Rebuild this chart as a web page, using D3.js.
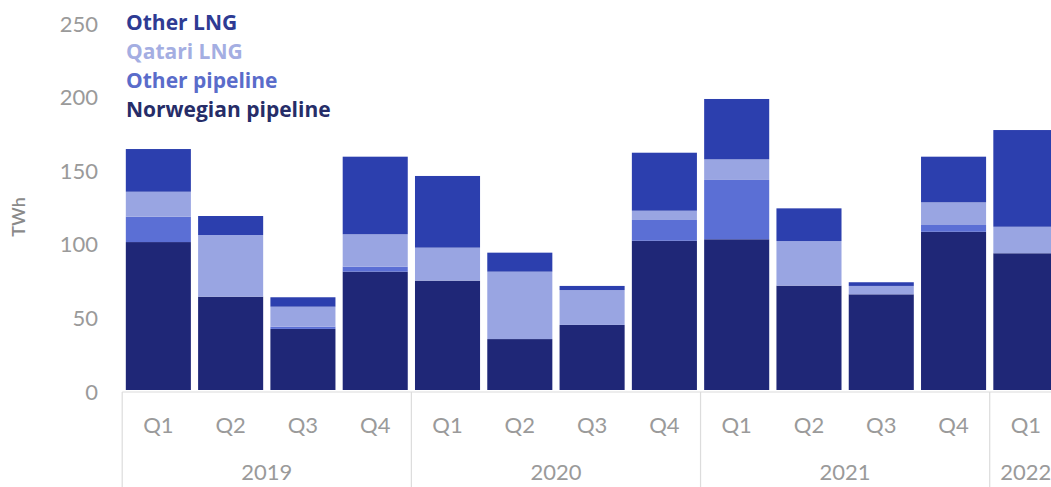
<!DOCTYPE html>
<html>
<head>
	<meta charset="UTF-8">
	<title>Gas imports by source</title>
	<script src="https://d3js.org/d3.v7.min.js"></script>
	<style type="text/css">
		body { margin: 0; background: #fff; }
		text { font-family: Lato, "Open Sans", sans-serif; }
		.tick-label { fill: #9a9a9a; font-size: 22px; }
		.cat-label { fill: #9a9a9a; font-size: 22px; }
		.legend text { font-family: "Open Sans", Lato, sans-serif; }
		.frame line { stroke: #dcdcdc; stroke-width: 1.2; }
	</style>
</head>
<body>
<svg id="chart" width="1051" height="487"></svg>
<script type="text/javascript">

	//=====DATA=======================================================================
	var quarters = ["Q1", "Q2", "Q3", "Q4", "Q1", "Q2", "Q3", "Q4", "Q1", "Q2", "Q3", "Q4", "Q1"];
	var years = ["2019", "2020", "2021", "2022"];
	var yearOf = ["2019", "2019", "2019", "2019", "2020", "2020", "2020", "2020",
	              "2021", "2021", "2021", "2021", "2022"];

	// TWh, bottom to top of each stack
	var norwegian     = [100.5, 63.4, 41.5, 80.4, 74.3, 34.6, 44.2, 101.4, 102.4, 70.9, 65.0, 107.5, 92.9];
	var otherPipeline = [ 17.2,  0.0,  1.5,  3.4,  0.0,  0.0,  0.0,  14.1,  40.3,  0.0,  0.0,   4.6,  0.0];
	var qatari        = [ 17.0, 41.9, 13.6, 22.0, 22.4, 45.8, 23.7,   6.3,  14.0, 30.3,  5.7,  15.4, 18.0];
	var otherLng      = [ 29.0, 12.9,  6.4, 52.7, 48.7, 12.9,  2.8,  39.4,  41.0, 22.2,  2.5,  31.0, 65.7];

	var yTicks = [0, 50, 100, 150, 200, 250];

	var seriesNames = ["Norwegian pipeline", "Other pipeline", "Qatari LNG", "Other LNG"];
	var barColours  = ["#1f2777", "#5b6fd5", "#99a5e2", "#2c3fae"];
	var textColours = ["#262d68", "#5a6cca", "#a4aee2", "#2e3b93"];

	var rows = quarters.map(function(q, i) {
		return {
			key: i,
			"Norwegian pipeline": norwegian[i],
			"Other pipeline": otherPipeline[i],
			"Qatari LNG": qatari[i],
			"Other LNG": otherLng[i]
		};
	});

	//=======SCALE======================================================================
	var svg = d3.select("#chart");

	var x = d3.scaleBand()
		.domain(d3.range(quarters.length))
		.range([122.2, 1062])
		.paddingInner(0.1)
		.paddingOuter(0.05);

	var y = d3.scaleLinear()
		.domain([0, 250])
		.range([390, 22]);

	var colour = d3.scaleOrdinal().domain(seriesNames).range(barColours);

	var stacked = d3.stack().keys(seriesNames)(rows);

	//==Draw the bars==================================================================
	svg.append("g")
		.selectAll("g")
		.data(stacked)
		.join("g")
			.attr("fill", function(d) { return colour(d.key); })
		.selectAll("rect")
		.data(function(d) { return d; })
		.join("rect")
			.attr("x", function(d) { return x(d.data.key); })
			.attr("y", function(d) { return y(d[1]); })
			.attr("width", x.bandwidth())
			.attr("height", function(d) { return Math.max(0, y(d[0]) - y(d[1])); });

	//====Y axis labels================================================================
	var yAxis = d3.axisLeft(y).tickValues(yTicks).tickSize(0).tickPadding(0);
	var gy = svg.append("g")
		.attr("transform", "translate(98,2)")
		.call(yAxis);
	gy.select(".domain").remove();
	gy.selectAll("text")
		.attr("class", "tick-label")
		.attr("font-family", null)
		.attr("font-size", null);

	svg.append("text")
		.attr("transform", "translate(25,217) rotate(-90)")
		.attr("text-anchor", "middle")
		.attr("fill", "#8a8a8a")
		.attr("font-size", "18px")
		.attr("font-weight", "600")
		.text("TWh");

	//====X axis: quarters and years===================================================
	var step = x.step();
	var half = step * x.paddingInner() / 2;
	var frame = svg.append("g").attr("class", "frame");

	frame.append("line")
		.attr("x1", x(0) - half).attr("x2", 1051)
		.attr("y1", 392).attr("y2", 392);

	// separator in front of the first quarter of each year
	var yearStarts = years.map(function(yr) { return yearOf.indexOf(yr); });
	frame.selectAll("line.sep")
		.data(yearStarts)
		.join("line")
			.attr("class", "sep")
			.attr("x1", function(i) { return x(i) - half; })
			.attr("x2", function(i) { return x(i) - half; })
			.attr("y1", 392).attr("y2", 487);

	svg.append("g")
		.selectAll("text")
		.data(quarters)
		.join("text")
			.attr("class", "cat-label")
			.attr("text-anchor", "middle")
			.attr("x", function(d, i) { return x(i) + x.bandwidth() / 2; })
			.attr("y", 433)
			.text(function(d) { return d; });

	svg.append("g")
		.selectAll("text")
		.data(years)
		.join("text")
			.attr("class", "cat-label")
			.attr("text-anchor", "middle")
			.attr("x", function(yr) {
				var idx = d3.range(yearOf.length).filter(function(i) { return yearOf[i] === yr; });
				return (x(idx[0]) + x(idx[idx.length - 1]) + x.bandwidth()) / 2;
			})
			.attr("y", 480)
			.text(function(d) { return d; });

	//====Legend (top series first)====================================================
	var legendOrder = seriesNames.slice().reverse();
	svg.append("g")
		.attr("class", "legend")
		.selectAll("text")
		.data(legendOrder)
		.join("text")
			.attr("x", 126)
			.attr("y", function(d, i) { return 30 + i * 29; })
			.attr("font-size", "21px")
			.attr("font-weight", "700")
			.attr("fill", function(d) { return textColours[seriesNames.indexOf(d)]; })
			.text(function(d) { return d; });

</script>
</body>
</html>
